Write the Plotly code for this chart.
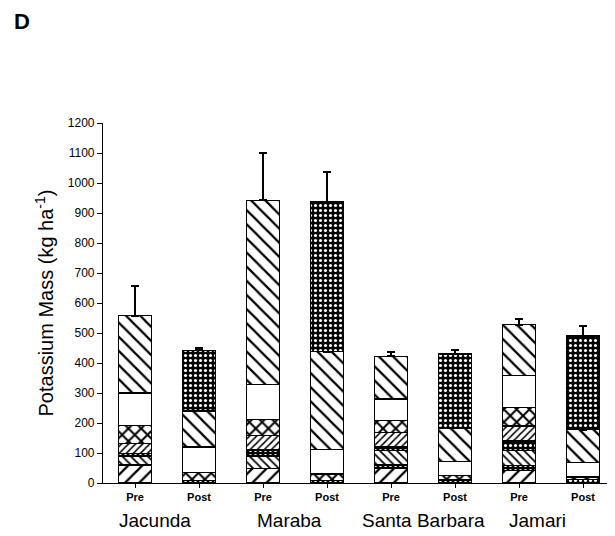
import plotly.graph_objects as go

sites = ["Jacunda", "Maraba", "Santa Barbara", "Jamari"]
phases = ["Pre", "Post"]

# Stacked components (kg ha-1), order: for each site Pre, Post
comp_coarse_slash = [60, None, 47, None, 50, None, 43, None]
comp_dark_thin    = [None, None, None, None, 10, None, 14, None]
comp_fine_back    = [30, None, 43, None, 47, None, 50, None]
comp_dark_band    = [7, 8, 20, 8, 16, 10, 33, 12]
comp_fine_slash   = [36, None, 47, None, 44, None, 50, None]
comp_cross        = [60, 27, 56, 22, 40, 15, 63, 8]
comp_white        = [107, 85, 114, 83, 73, 48, 104, 47]
comp_back         = [257, 120, 616, 324, 143, 110, 170, 110]
comp_ash          = [None, 203, None, 500, None, 247, None, 313]

err_pre  = [100, None, 157, None, 14, None, 20, None]
err_post = [None, 7, None, 100, None, 13, None, 33]

y_ticks = list(range(0, 1201, 100))

cats = [f"{s} {p}" for s in sites for p in phases]
tick_text = [p for s in sites for p in phases]

# label style offsets (pixels) for site names
site_label_shift = [-12, -6, 0, -14]

line = dict(color="black", width=1.1)

def pat(shape, size, solidity, bg="white", fg="black"):
    return dict(shape=shape, size=size, solidity=solidity, bgcolor=bg, fgcolor=fg, fillmode="replace")

dark = pat(".", 5, 0.3, bg="black", fg="white")

layers = [
    ("Layer 1", comp_coarse_slash, pat("/", 10, 0.22), None),
    ("Layer 2", comp_dark_thin, dark, None),
    ("Layer 3", comp_fine_back, pat("\\", 6, 0.3), None),
    ("Layer 4", comp_dark_band, dark, None),
    ("Layer 5", comp_fine_slash, pat("/", 5, 0.3), None),
    ("Layer 6", comp_cross, pat("x", 9, 0.4), None),
    ("Layer 7", comp_white, None, None),
    ("Layer 8", comp_back, pat("\\", 10, 0.22), err_pre),
    ("Layer 9", comp_ash, dark, err_post),
]

fig = go.Figure()
for name, vals, pattern, err in layers:
    marker = dict(color="white", line=line)
    if pattern is not None:
        marker["pattern"] = pattern
    kw = {}
    if err is not None:
        kw["error_y"] = dict(type="data", array=err, arrayminus=[0]*len(err),
                             symmetric=False, color="black", thickness=2, width=4)
    fig.add_trace(go.Bar(x=cats, y=vals, name=name, marker=marker, **kw))

annotations = [dict(text="<b>D</b>", xref="paper", yref="paper", x=-0.178, y=1.283,
                    xanchor="left", yanchor="middle", showarrow=False,
                    font=dict(family="Arial", size=22, color="black"))]
for i, s in enumerate(sites):
    annotations.append(dict(text=s, xref="x", yref="paper", x=2*i + 0.5, y=-0.103,
                            xanchor="center", yanchor="middle", showarrow=False,
                            xshift=site_label_shift[i],
                            font=dict(family="Arial", size=19, color="black")))

fig.update_layout(
    barmode="stack",
    bargap=0.49,
    width=615, height=536,
    margin=dict(l=95, r=8, t=115, b=61),
    plot_bgcolor="white", paper_bgcolor="white",
    showlegend=False,
    annotations=annotations,
    font=dict(family="Arial", color="black"),
)
fig.update_xaxes(
    type="category", tickvals=cats, ticktext=tick_text,
    showline=True, linecolor="black", linewidth=1.2,
    ticks="outside", ticklen=4, tickcolor="black",
    tickfont=dict(family="Arial", size=11, color="black", weight="bold"),
    showgrid=False, zeroline=False,
)
fig.update_yaxes(
    range=[0, 1200], tickvals=y_ticks,
    showline=True, linecolor="black", linewidth=1.2,
    ticks="outside", ticklen=5, tickcolor="black",
    tickfont=dict(family="Arial", size=12, color="black"),
    showgrid=False, zeroline=False,
    title=dict(text="Potassium Mass (kg ha<sup>-1</sup>)", font=dict(family="Arial", size=20, color="black"), standoff=8),
)

fig.write_html("out.html")
